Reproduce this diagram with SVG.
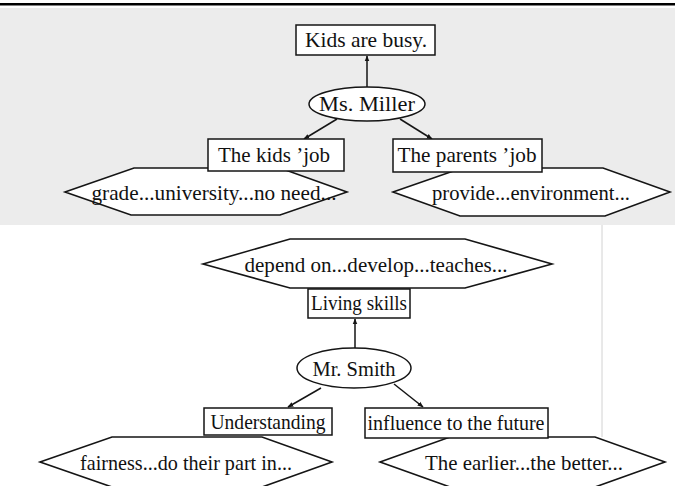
<svg xmlns="http://www.w3.org/2000/svg" width="675" height="486" viewBox="0 0 675 486">
  <style>
    text { font-family: "Liberation Serif", "Times New Roman", serif; fill: #111111; text-anchor: middle; }
    .t { font-size: 21px; }
    .hex { fill: #ffffff; stroke: #151515; stroke-width: 1.6; }
    .box { fill: #ffffff; stroke: #151515; stroke-width: 1.5; }
    .oval { fill: #ffffff; stroke: #151515; stroke-width: 1.5; }
    .link { fill: none; stroke: #151515; stroke-width: 1.5; marker-end: url(#tip); }
  </style>
  <defs>
    <marker id="tip" viewBox="0 0 10 10" refX="9" refY="5" markerWidth="6" markerHeight="6" orient="auto" markerUnits="userSpaceOnUse">
      <path d="M0,1 L10,5 L0,9 Z" fill="#151515"/>
    </marker>
  </defs>

  <!-- page -->
  <rect x="0" y="0" width="675" height="486" fill="#ffffff"/>
  <rect x="0" y="3" width="675" height="2.5" fill="#000000"/>
  <rect x="0" y="8" width="675" height="217" fill="#ececec"/>
  <line x1="602" y1="225" x2="602" y2="437" stroke="#d2d2d2" stroke-width="1"/>

  <!-- connectors -->
  <g id="connectors">
    <line class="link" x1="367" y1="88" x2="367" y2="56"/>
    <line class="link" x1="337" y1="119" x2="304" y2="139"/>
    <line class="link" x1="400" y1="119" x2="432" y2="139"/>
    <line class="link" x1="355" y1="348" x2="355" y2="319"/>
    <line class="link" x1="321" y1="388" x2="288" y2="407"/>
    <line class="link" x1="394" y1="384" x2="423" y2="407"/>
  </g>

  <!-- Ms. Miller branch -->
  <g id="kids-busy">
    <rect class="box" x="296" y="25" width="139" height="30"/>
    <text class="t" x="366" y="47" textLength="122" lengthAdjust="spacingAndGlyphs">Kids are busy.</text>
  </g>
  <g id="ms-miller">
    <ellipse class="oval" cx="367" cy="104" rx="58" ry="17"/>
    <text class="t" x="367" y="111" textLength="96" lengthAdjust="spacingAndGlyphs">Ms. Miller</text>
  </g>
  <g id="kids-detail">
    <polygon class="hex" points="65,192 134,168 280,168 347,192 280,215 131,215"/>
    <text class="t" x="214" y="200" textLength="245" lengthAdjust="spacingAndGlyphs">grade...university...no need...</text>
  </g>
  <g id="parents-detail">
    <polygon class="hex" points="393,192 462,168 603,168 670,192 605,216 460,216"/>
    <text class="t" x="531" y="200" textLength="198" lengthAdjust="spacingAndGlyphs">provide...environment...</text>
  </g>
  <g id="kids-job">
    <rect class="box" x="208" y="139" width="136" height="32"/>
    <text class="t" x="274" y="162" textLength="112" lengthAdjust="spacingAndGlyphs">The kids ’job</text>
  </g>
  <g id="parents-job">
    <rect class="box" x="393" y="139" width="149" height="33"/>
    <text class="t" x="467" y="162" textLength="139" lengthAdjust="spacingAndGlyphs">The parents ’job</text>
  </g>

  <!-- Mr. Smith branch -->
  <g id="skills-detail">
    <polygon class="hex" points="203,264 290,239 465,239 552,264 465,288 290,288"/>
    <text class="t" x="376" y="272" textLength="263" lengthAdjust="spacingAndGlyphs">depend on...develop...teaches...</text>
  </g>
  <g id="living-skills">
    <rect class="box" x="308" y="289" width="102" height="29"/>
    <text class="t" x="359" y="310" textLength="96" lengthAdjust="spacingAndGlyphs">Living skills</text>
  </g>
  <g id="mr-smith">
    <ellipse class="oval" cx="354" cy="368" rx="57" ry="20"/>
    <text class="t" x="354" y="376" textLength="83" lengthAdjust="spacingAndGlyphs">Mr. Smith</text>
  </g>
  <g id="understanding-detail">
    <polygon class="hex" points="40,462 112,437 262,437 332,462 262,487 112,487"/>
    <text class="t" x="186" y="470" textLength="212" lengthAdjust="spacingAndGlyphs">fairness...do their part in...</text>
  </g>
  <g id="future-detail">
    <polygon class="hex" points="380,462 450,437 595,437 665,462 595,487 450,487"/>
    <text class="t" x="524" y="470" textLength="198" lengthAdjust="spacingAndGlyphs">The earlier...the better...</text>
  </g>
  <g id="understanding">
    <rect class="box" x="204" y="408" width="128" height="27"/>
    <text class="t" x="268" y="429" textLength="115" lengthAdjust="spacingAndGlyphs">Understanding</text>
  </g>
  <g id="influence">
    <rect class="box" x="365" y="408" width="183" height="30"/>
    <text class="t" x="456" y="430" textLength="177" lengthAdjust="spacingAndGlyphs">influence to the future</text>
  </g>
</svg>
